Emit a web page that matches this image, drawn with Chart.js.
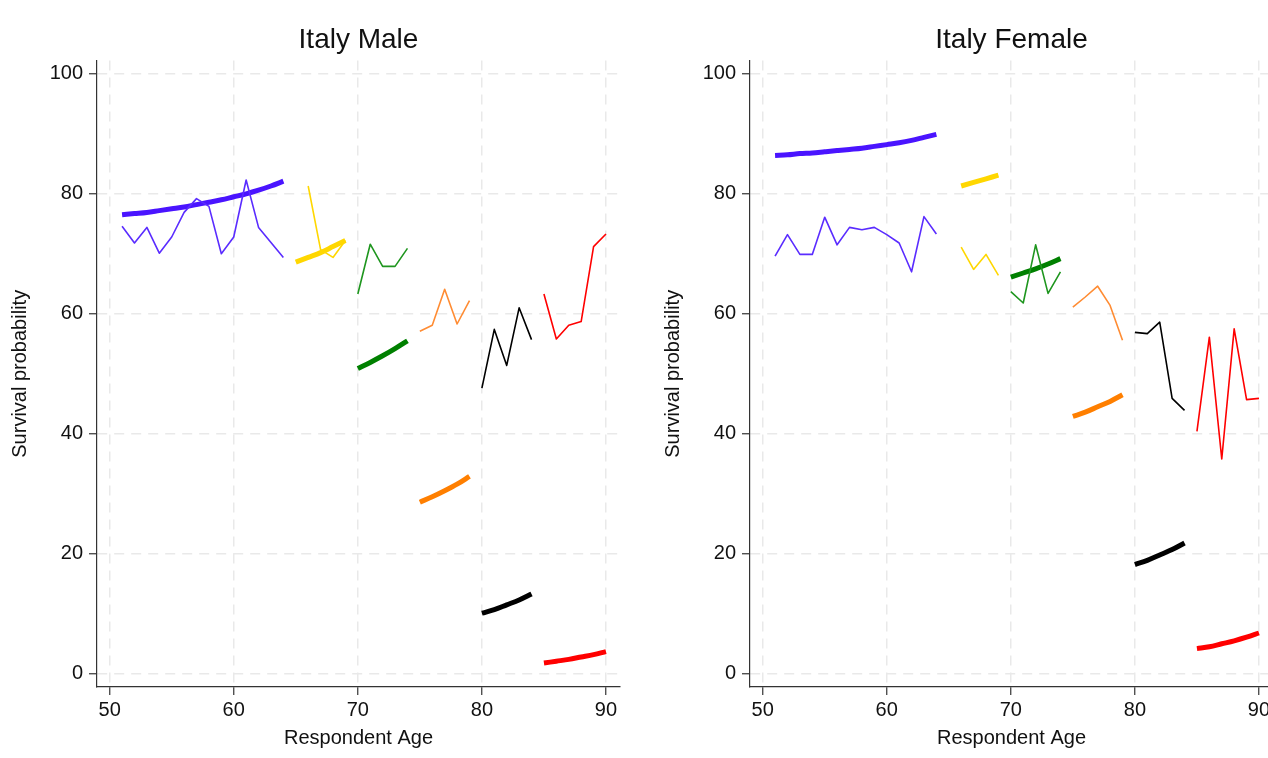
<!DOCTYPE html>
<html>
<head>
<meta charset="utf-8">
<script src="https://cdn.jsdelivr.net/npm/chart.js@4/dist/chart.umd.min.js"></script>
<style>
  html, body { margin: 0; padding: 0; background: #fff; overflow: hidden; }
  body { width: 1268px; height: 758px; position: relative; }
  canvas { position: absolute; top: 0; }
  #male { left: 0; }
  #female { left: 653px; }
</style>
</head>
<body>
<canvas id="male" width="634" height="758"></canvas>
<canvas id="female" width="634" height="758"></canvas>
<script>
// ages of each age band
const ages51 = [51, 52, 53, 54, 55, 56, 57, 58, 59, 60, 61, 62, 63, 64];
const ages65 = [65, 66, 67, 68, 69];
const ages66 = [66, 67, 68, 69];
const ages70 = [70, 71, 72, 73, 74];
const ages75 = [75, 76, 77, 78, 79];
const ages80 = [80, 81, 82, 83, 84];
const ages85 = [85, 86, 87, 88, 89, 90];

const xTicks = [50, 60, 70, 80, 90];
const yTicks = [0, 20, 40, 60, 80, 100];

// Italy male: observed (thin) and fitted (thick)
const maleObs51 = [74.6, 71.8, 74.4, 70.1, 72.8, 76.9, 79.2, 77.9, 70.0, 72.8, 82.3, 74.4, 71.9, 69.4];
const maleFit51 = [76.5, 76.7, 76.9, 77.2, 77.5, 77.8, 78.2, 78.6, 79.0, 79.5, 80.0, 80.6, 81.3, 82.1];
const maleObs66 = [81.3, 70.7, 69.4, 72.2];
const maleFit65 = [68.6, 69.4, 70.2, 71.2, 72.2];
const maleObs70 = [63.3, 71.6, 67.9, 67.9, 70.9];
const maleFit70 = [50.9, 51.9, 53.0, 54.2, 55.5];
const maleObs75 = [57.1, 58.1, 64.1, 58.3, 62.2];
const maleFit75 = [28.6, 29.5, 30.5, 31.6, 32.9];
const maleObs80 = [47.6, 57.4, 51.4, 61.0, 55.7];
const maleFit80 = [10.1, 10.7, 11.5, 12.3, 13.3];
const maleObs85 = [63.3, 55.8, 58.1, 58.7, 71.2, 73.3];
const maleFit85 = [1.8, 2.1, 2.4, 2.8, 3.2, 3.7];

// Italy female
const femObs51 = [69.6, 73.2, 69.9, 69.9, 76.1, 71.5, 74.4, 74.0, 74.4, 73.2, 71.8, 67.0, 76.2, 73.3];
const femFit51 = [86.4, 86.5, 86.7, 86.8, 87.0, 87.2, 87.4, 87.6, 87.9, 88.2, 88.5, 88.9, 89.4, 89.9];
const femObs66 = [71.1, 67.4, 69.9, 66.4];
const femFit66 = [81.3, 81.9, 82.5, 83.1];
const femObs70 = [63.7, 61.8, 71.5, 63.4, 67.0];
const femFit70 = [66.1, 66.8, 67.5, 68.3, 69.2];
const femObs75 = [61.1, 62.8, 64.6, 61.4, 55.6];
const femFit75 = [42.9, 43.6, 44.5, 45.4, 46.5];
const femObs80 = [56.9, 56.7, 58.6, 45.9, 43.9];
const femFit80 = [18.2, 18.9, 19.8, 20.7, 21.8];
const femObs85 = [40.4, 56.1, 35.8, 57.5, 45.7, 45.9];
const femFit85 = [4.2, 4.5, 5.0, 5.5, 6.1, 6.8];

const FONT = "'Liberation Sans', Arial, sans-serif";
const BLUE = '#4a14ff', GOLD = '#ffd700', GREEN = '#008000', ORANGE = '#ff7f00', BLACK = '#000000', RED = '#ff0000';

function seg(ages, vals, color, width, smooth) {
    return {
        data: ages.map((a, i) => ({ x: a, y: vals[i] })),
        borderColor: color,
        backgroundColor: color,
        borderWidth: width,
        pointRadius: 0,
        tension: 0,
        cubicInterpolationMode: smooth ? 'monotone' : 'default',
        borderJoinStyle: 'round',
        fill: false
    };
}

function makeChart(id, title, series) {
    const datasets = [];
    series.forEach(s => {
        datasets.push(seg(s[0], s[1], s[4] || s[3], 1.6, false));
        datasets.push(seg(s[2], s[5], s[3], 5, true));
    });

    new Chart(document.getElementById(id), {
        type: 'line',
        data: { datasets },
        options: {
            responsive: false,
            animation: false,
            devicePixelRatio: 1,
            layout: { padding: { left: 0, right: 14, top: 0, bottom: 0 } },
            plugins: {
                legend: { display: false },
                tooltip: { enabled: false },
                title: {
                    display: true,
                    text: title,
                    fullSize: false,
                    color: '#111',
                    font: { family: FONT, size: 28, weight: 'normal' },
                    padding: { top: 23, bottom: 4 }
                }
            },
            scales: {
                x: {
                    type: 'linear',
                    min: 48.98,
                    max: 91.13,
                    afterBuildTicks: (scale) => { scale.ticks = xTicks.map(v => ({ value: v })); },
                    afterFit: (scale) => { scale.height = 71; },
                    grid: {
                        color: '#e9e9e9',
                        lineWidth: 1.5,
                        tickColor: '#333',
                        tickLength: 8,
                        tickWidth: 1.2
                    },
                    border: { display: true, color: '#333', width: 1.2, dash: [10, 7] },
                    ticks: {
                        color: '#111',
                        padding: 3,
                        maxRotation: 0,
                        font: { family: FONT, size: 20 }
                    },
                    title: {
                        display: true,
                        text: 'Respondent Age',
                        color: '#111',
                        font: { family: FONT, size: 20 },
                        padding: { top: 0, bottom: 8 }
                    }
                },
                y: {
                    min: -2.2,
                    max: 102.2,
                    afterBuildTicks: (scale) => { scale.ticks = yTicks.map(v => ({ value: v })); },
                    afterFit: (scale) => { scale.width = 97; },
                    grid: {
                        color: '#e9e9e9',
                        lineWidth: 1.5,
                        tickColor: '#333',
                        tickLength: 8,
                        tickWidth: 1.2
                    },
                    border: { display: true, color: '#333', width: 1.2, dash: [10, 7] },
                    ticks: {
                        color: '#111',
                        padding: 6,
                        font: { family: FONT, size: 20 }
                    },
                    title: {
                        display: true,
                        text: 'Survival probability',
                        color: '#111',
                        font: { family: FONT, size: 20 },
                        padding: { top: 8, bottom: 0 }
                    }
                }
            }
        }
    });
}

// [obs ages, obs values, fit ages, colour, thin colour, fit values]
makeChart('male', 'Italy Male', [
    [ages51, maleObs51, ages51, BLUE, '#5a2cff', maleFit51],
    [ages66, maleObs66, ages65, GOLD, null, maleFit65],
    [ages70, maleObs70, ages70, GREEN, '#1f961f', maleFit70],
    [ages75, maleObs75, ages75, ORANGE, '#ff8c33', maleFit75],
    [ages80, maleObs80, ages80, BLACK, null, maleFit80],
    [ages85, maleObs85, ages85, RED, null, maleFit85]
]);

makeChart('female', 'Italy Female', [
    [ages51, femObs51, ages51, BLUE, '#5a2cff', femFit51],
    [ages66, femObs66, ages66, GOLD, null, femFit66],
    [ages70, femObs70, ages70, GREEN, '#1f961f', femFit70],
    [ages75, femObs75, ages75, ORANGE, '#ff8c33', femFit75],
    [ages80, femObs80, ages80, BLACK, null, femFit80],
    [ages85, femObs85, ages85, RED, null, femFit85]
]);
</script>
</body>
</html>
